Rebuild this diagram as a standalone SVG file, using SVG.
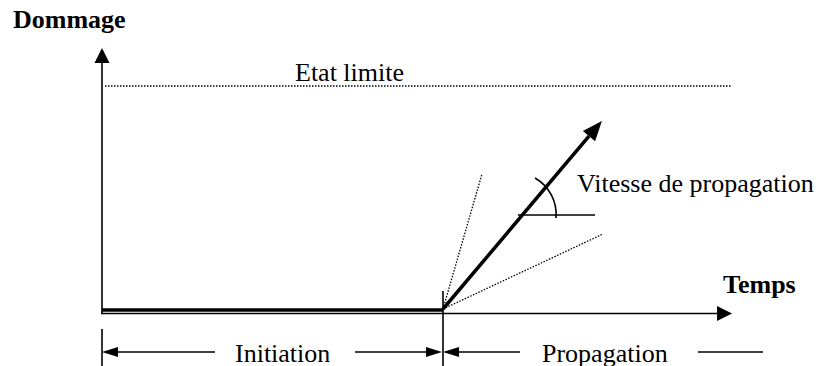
<svg xmlns="http://www.w3.org/2000/svg" width="820" height="366" viewBox="0 0 820 366">
<style>
.t{font-family:"Liberation Serif","Times New Roman",serif;font-size:26px;fill:#000}
.b{font-weight:bold}
.ln{stroke:#000;stroke-width:1.6;fill:none}
.dot{stroke:#000;stroke-width:1.3;stroke-dasharray:1.5 1.5;fill:none}
</style>
<defs>
<marker id="ax" markerUnits="userSpaceOnUse" markerWidth="16" markerHeight="16" refX="0" refY="7.5" orient="auto" overflow="visible">
<path d="M0,0 L15,7.5 L0,15z" fill="#000"/>
</marker>
<marker id="big" markerUnits="userSpaceOnUse" markerWidth="21" markerHeight="17" refX="0" refY="8" orient="auto" overflow="visible">
<path d="M0,0 L20,8 L0,16z" fill="#000"/>
</marker>
<marker id="dim" markerUnits="userSpaceOnUse" markerWidth="17" markerHeight="11" refX="0" refY="5" orient="auto" overflow="visible">
<path d="M0,0 L16,5 L0,10z" fill="#000"/>
</marker>
</defs>
<g id="labels">
<text class="t b" x="13" y="28">Dommage</text>
<text class="t" x="295" y="81">Etat limite</text>
<text class="t" x="577" y="192">Vitesse de propagation</text>
<text class="t b" x="723" y="293">Temps</text>
<text class="t" x="235" y="362">Initiation</text>
<text class="t" x="542" y="362">Propagation</text>
</g>
<g id="connectors">
<line class="ln" x1="102" y1="314" x2="102" y2="63" marker-end="url(#ax)"/>
<line class="ln" x1="101" y1="313.5" x2="717" y2="313.5" marker-end="url(#ax)"/>
<line class="dot" x1="105" y1="86" x2="732" y2="86"/>
<line x1="102" y1="310" x2="443" y2="310" stroke="#000" stroke-width="3.3"/>
<line x1="443" y1="309" x2="589" y2="136.2" stroke="#000" stroke-width="3.5" marker-end="url(#big)"/>
<line class="dot" x1="443" y1="309" x2="482" y2="174"/>
<line class="dot" x1="443" y1="309" x2="603" y2="234"/>
<line class="ln" x1="518" y1="215" x2="595" y2="215"/>
<path class="ln" d="M535,178 A42,42 0 0 1 556,218"/>
<line class="ln" x1="443" y1="291" x2="443" y2="366"/>
<line class="ln" x1="102" y1="329" x2="102" y2="366"/>
<line class="ln" x1="215" y1="352" x2="118" y2="352" marker-end="url(#dim)"/>
<line class="ln" x1="355" y1="352" x2="426" y2="352" marker-end="url(#dim)"/>
<line class="ln" x1="520" y1="352" x2="459" y2="352" marker-end="url(#dim)"/>
<line class="ln" x1="698" y1="352" x2="763" y2="352"/>
</g>
</svg>
